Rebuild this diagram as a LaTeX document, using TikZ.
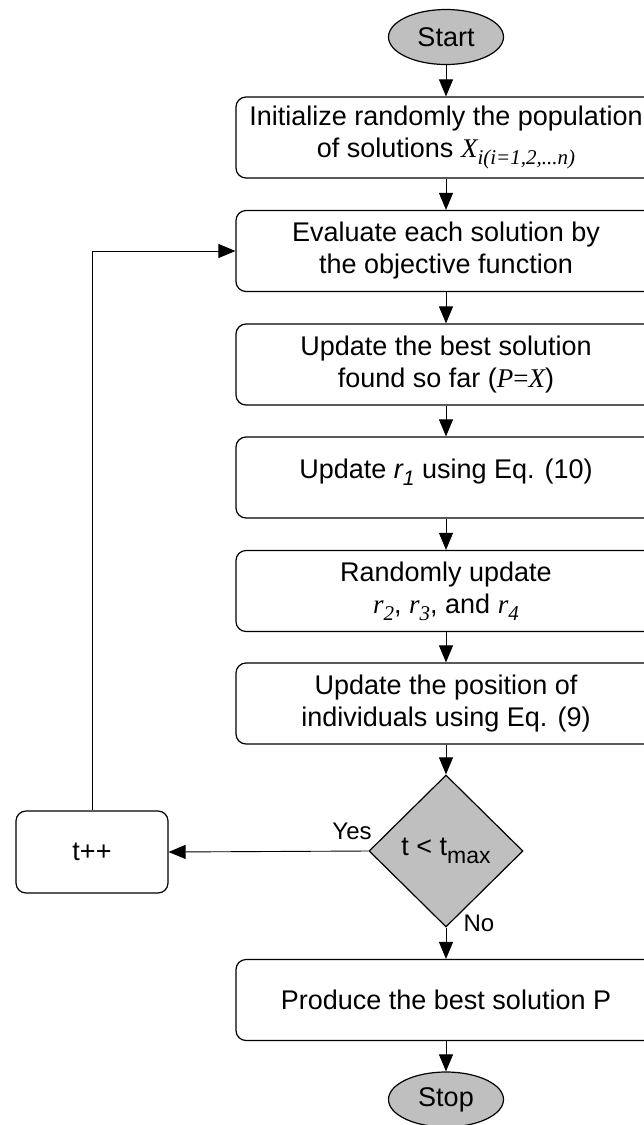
\documentclass[tikz,border=0pt]{standalone}
\usepackage{fontspec}
\setmainfont{Liberation Sans}
\newfontfamily\tms{Liberation Serif}
\usetikzlibrary{shapes.geometric,arrows.meta}
\definecolor{termgray}{RGB}{191,191,191}
\newcommand{\lowsub}[1]{\raisebox{-7pt}{\fontsize{21}{21}\selectfont #1}}
\begin{document}
\begin{tikzpicture}[x=1pt,y=-1pt,
  txt/.style={font=\fontsize{27}{32}\selectfont},
  box/.style={txt, draw, line width=1.2pt, rounded corners=10pt, minimum width=420pt,
    minimum height=81pt, align=center, inner sep=0pt},
  term/.style={txt, ellipse, draw, line width=1.2pt, fill=termgray, minimum width=115pt,
    minimum height=55pt, inner sep=0pt},
  decision/.style={txt, diamond, draw, line width=1.2pt, fill=termgray, minimum width=154pt,
    minimum height=152pt, inner sep=0pt},
  conn/.style={line width=0.9pt, -{Triangle[length=17pt,width=14pt]}},
  lbl/.style={font=\fontsize{24}{24}\selectfont, inner sep=0pt}
]
\useasboundingbox (0,0) rectangle (644,1125);
\clip (0,0) rectangle (644,1125);

\node[term] (start) at (446,37) {Start};
\node[box] (b1) at (446,137.5) {Initialize randomly the population\\of solutions {\tms\itshape X\lowsub{i(i=1,2,...n)}}};
\node[box] (b2) at (446,251) {Evaluate each solution by\\the objective function};
\node[box] (b3) at (446,364.5) {Update the best solution\\found so far ({\tms\itshape P}{\tms =}{\tms\itshape X})};
\node[box, text depth=18pt] (b4) at (446,477.5) {Update {\itshape r\lowsub{1}} using Eq. (10)};
\node[box] (b5) at (446,591) {Randomly update\\{\tms\itshape r\lowsub{2}}, {\tms\itshape r\lowsub{3}}, and {\tms\itshape r\lowsub{4}}};
\node[box] (b6) at (446,703.5) {Update the position of\\individuals using Eq. (9)};
\node[decision] (dec) at (446,851) {t {\textless} t\raisebox{-8pt}{\fontsize{23}{23}\selectfont max}};
\node[box] (b7) at (446,1000) {Produce the best solution P};
\node[term] (stop) at (446,1099.5) {Stop};
\node[box, minimum width=152pt, minimum height=82pt] (tpp) at (92,852) {t++};

\node[lbl] (yes) at (352,831) {Yes};
\node[lbl] (no) at (479,923) {No};

\draw[conn] (start) -- (b1);
\draw[conn] (b1) -- (b2);
\draw[conn] (b2) -- (b3);
\draw[conn] (b3) -- (b4);
\draw[conn] (b4) -- (b5);
\draw[conn] (b5) -- (b6);
\draw[conn] (b6) -- (dec);
\draw[conn] (dec) -- (b7);
\draw[conn] (b7) -- (stop);
\draw[conn] (dec.west) -- (tpp.east);
\draw[conn] (tpp.north) |- (b2.west);
\end{tikzpicture}
\end{document}
